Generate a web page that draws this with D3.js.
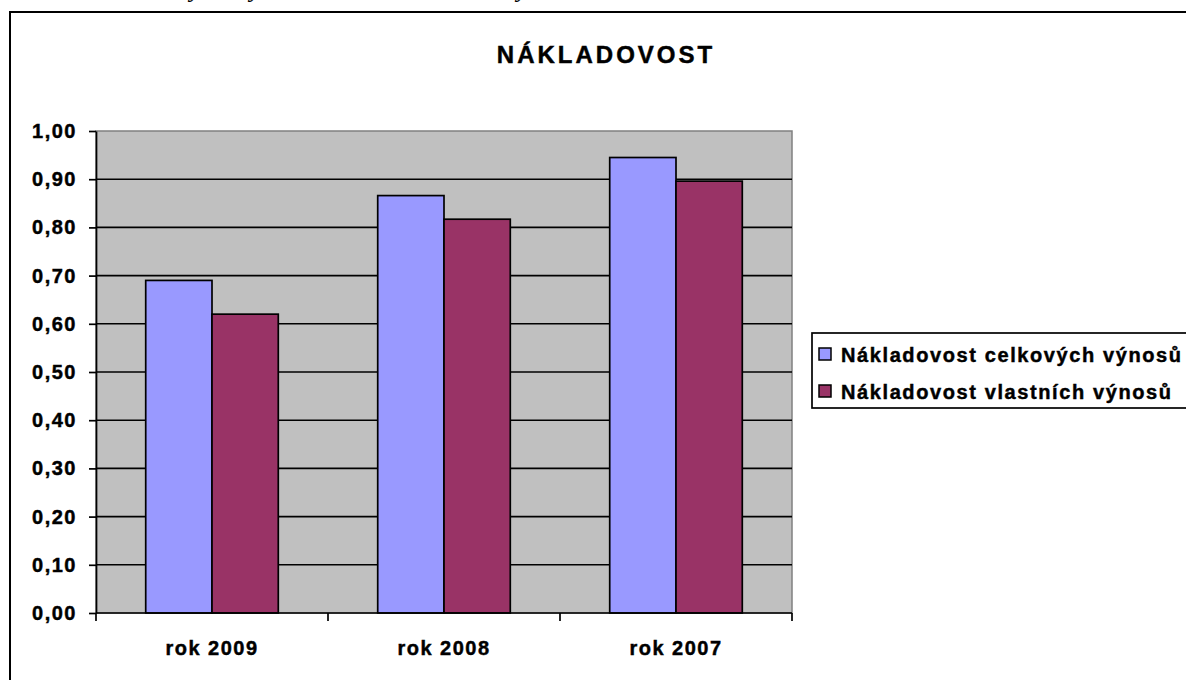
<!DOCTYPE html>
<html>
<head>
<meta charset="utf-8">
<script src="https://cdn.jsdelivr.net/npm/d3@7"></script>
<style>
  body { margin: 0; background: #fff; }
  svg { display: block; font-family: 'Liberation Sans', Arial, sans-serif; }
  text { font-weight: bold; fill: #000; }
  text.heavy { stroke: #000; stroke-width: 0.45px; }
</style>
</head>
<body>
<svg width="1186" height="680"></svg>
<script>
var categories = ['rok 2009', 'rok 2008', 'rok 2007']
var seriesNames = ['Nákladovost celkových výnosů', 'Nákladovost vlastních výnosů']
var celkoveVynosy = [0.69, 0.866, 0.945]
var vlastniVynosy = [0.62, 0.817, 0.896]
var seriesColors = ['#9999ff', '#993366']
var yTicks = [0, 0.1, 0.2, 0.3, 0.4, 0.5, 0.6, 0.7, 0.8, 0.9, 1.0]

var series = seriesNames.map((name, i) => ({name, color: seriesColors[i], values: [celkoveVynosy, vlastniVynosy][i]}))

var svg = d3.select('svg')
var fmt = d3.formatLocale({decimal: ',', thousands: ' ', grouping: [3], currency: ['', '']}).format('.2f')

// caption line of the page above the chart, cut off by the picture edge (as in the reference)
var caption = svg.append('text')
  .attr('y', -3)
  .style('font-family', "'Liberation Serif', 'Times New Roman', serif")
  .style('font-style', 'italic').style('font-weight', 'normal').style('font-size', '26px')
caption.selectAll('tspan').data([190, 250, 517]).join('tspan')
  .attr('x', d => d).text('y')

// chart frame
svg.append('rect')
  .attr('x', 10).attr('y', 12).attr('width', 1200).attr('height', 700)
  .attr('fill', '#fff').attr('stroke', '#000').attr('stroke-width', 2)

svg.append('text').attr('class', 'heavy')
  .attr('x', 606).attr('y', 63)
  .attr('text-anchor', 'middle')
  .style('font-size', '24px').style('letter-spacing', '3px')
  .text('NÁKLADOVOST')

var x = d3.scaleBand().domain(categories).range([96, 792])
var x1 = d3.scaleBand().domain(seriesNames).range([0, x.bandwidth()]).paddingOuter(0.75)
var y = d3.scaleLinear().domain([0, 1]).range([613, 131])

// plot area
svg.append('rect')
  .attr('x', x.range()[0]).attr('y', y(1))
  .attr('width', x.range()[1] - x.range()[0]).attr('height', y(0) - y(1))
  .attr('fill', '#c0c0c0').attr('stroke', '#808080').attr('stroke-width', 1.5)

svg.append('g').selectAll('line')
  .data(yTicks.filter(d => d > 0 && d < 1))
  .join('line')
  .attr('x1', x.range()[0]).attr('x2', x.range()[1])
  .attr('y1', d => y(d)).attr('y2', d => y(d))
  .attr('stroke', '#000').attr('stroke-width', 1.6)

// bars
svg.append('g').selectAll('g')
  .data(series)
  .join('g')
  .attr('fill', d => d.color)
  .selectAll('rect')
  .data(s => s.values.map((v, i) => ({name: s.name, cat: categories[i], v})))
  .join('rect')
  .attr('x', d => x(d.cat) + x1(d.name))
  .attr('width', x1.bandwidth())
  .attr('y', d => y(d.v))
  .attr('height', d => y(0) - y(d.v))
  .attr('stroke', '#000').attr('stroke-width', 1.7)

// y axis
var yAxis = svg.append('g')
  .attr('transform', `translate(${x.range()[0]},0)`)
  .call(d3.axisLeft(y).tickValues(yTicks).tickFormat(fmt).tickSizeInner(7).tickSizeOuter(0).tickPadding(12))
yAxis.select('.domain').attr('stroke', '#000').attr('stroke-width', 1.7)
yAxis.selectAll('.tick line').attr('stroke', '#000').attr('stroke-width', 1.7)
yAxis.selectAll('.tick text')
  .attr('class', 'heavy')
  .attr('font-family', null).attr('font-size', null)
  .style('font-size', '20px').style('letter-spacing', '1.5px')

// x axis: ticks on band edges, labels centred
var edges = categories.map(c => x(c)).concat([x.range()[1]])
var xAxis = svg.append('g')
xAxis.append('line')
  .attr('x1', x.range()[0]).attr('x2', x.range()[1])
  .attr('y1', y(0)).attr('y2', y(0))
  .attr('stroke', '#000').attr('stroke-width', 1.7)
xAxis.selectAll('line.tick').data(edges).join('line').attr('class', 'tick')
  .attr('x1', d => d).attr('x2', d => d)
  .attr('y1', y(0)).attr('y2', y(0) + 8)
  .attr('stroke', '#000').attr('stroke-width', 1.7)
xAxis.selectAll('text').data(categories).join('text')
  .attr('class', 'heavy')
  .attr('x', d => x(d) + x.bandwidth() / 2)
  .attr('y', 655)
  .attr('text-anchor', 'middle')
  .style('font-size', '20px').style('letter-spacing', '1.5px')
  .text(d => d)

// legend
var legend = svg.append('g').attr('transform', 'translate(812,333)')
legend.append('rect')
  .attr('width', 400).attr('height', 75)
  .attr('fill', '#fff').attr('stroke', '#000').attr('stroke-width', 1.7)
var item = legend.selectAll('g').data(series).join('g')
  .attr('transform', (d, i) => `translate(0,${15 + i * 37})`)
item.append('rect')
  .attr('x', 7).attr('width', 12).attr('height', 12)
  .attr('fill', d => d.color).attr('stroke', '#000').attr('stroke-width', 1.5)
item.append('text')
  .attr('class', 'heavy')
  .attr('x', 29).attr('y', 14)
  .style('font-size', '20px').style('letter-spacing', '1.6px')
  .text(d => d.name)
</script>
</body>
</html>
